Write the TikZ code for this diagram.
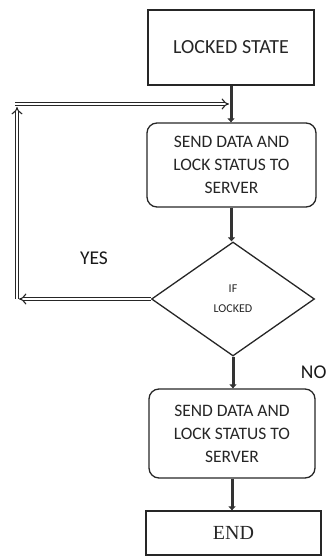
\documentclass[tikz,border=0pt]{standalone}
\usepackage{fontspec}
\setmainfont{Carlito}
\newfontfamily\endfont{Liberation Serif}
\usetikzlibrary{shapes.geometric,arrows.meta}
\begin{document}
\begin{tikzpicture}[x=1pt,y=-1pt,
  boxstyle/.style={draw=black!85,line width=1.3pt,align=center,inner sep=0pt,text=black!85},
  roundbox/.style={boxstyle,rounded corners=10pt,font=\fontsize{17.5}{23}\selectfont},
  flow/.style={draw=black!80,line width=3pt,-{Triangle[length=4pt,width=7pt]}},
  loopline/.style={draw=black!85,double=white,double distance=2.6pt,line width=1.1pt,-{Implies}},
  lab/.style={font=\fontsize{19.5}{22}\selectfont,text=black!90}]
\useasboundingbox (0,0) rectangle (331,556);
\node[boxstyle,minimum width=166pt,minimum height=75pt,font=\fontsize{20}{22}\selectfont] (locked) at (231,47.5) {LOCKED STATE};
\node[roundbox,minimum width=169pt,minimum height=84pt] (send1) at (231.5,165) {SEND DATA AND\\LOCK STATUS TO\\SERVER};
\node[boxstyle,diamond,minimum width=163pt,minimum height=114pt,font=\fontsize{12}{20}\selectfont] (dec) at (233,299) {IF\\LOCKED};
\node[roundbox,minimum width=166pt,minimum height=89pt] (send2) at (232,433.5) {SEND DATA AND\\LOCK STATUS TO\\SERVER};
\node[boxstyle,minimum width=175pt,minimum height=44pt,font=\endfont\fontsize{20}{22}\selectfont] (end) at (233.5,533) {END};
\node[lab] (yes) at (94,258) {YES};
\node[lab,anchor=east] (no) at (330,372) {NO};
\coordinate (lc) at (19,299);
\coordinate (vb) at (17,299);
\coordinate (vt) at (17,107);
\coordinate (hl) at (15,104);
\coordinate (hr) at (229,104);
\draw[flow] (locked.south) -- (locked.south |- send1.north);
\draw[flow] (send1.south) -- (send1.south |- dec.north);
\draw[flow] (dec.south) -- (dec.south |- send2.north);
\draw[flow] (send2.south) -- (send2.south |- end.north);
\draw[loopline] (dec.west) -- (lc);
\draw[loopline] (vb) -- (vt);
\draw[loopline] (hl) -- (hr);
\end{tikzpicture}
\end{document}
